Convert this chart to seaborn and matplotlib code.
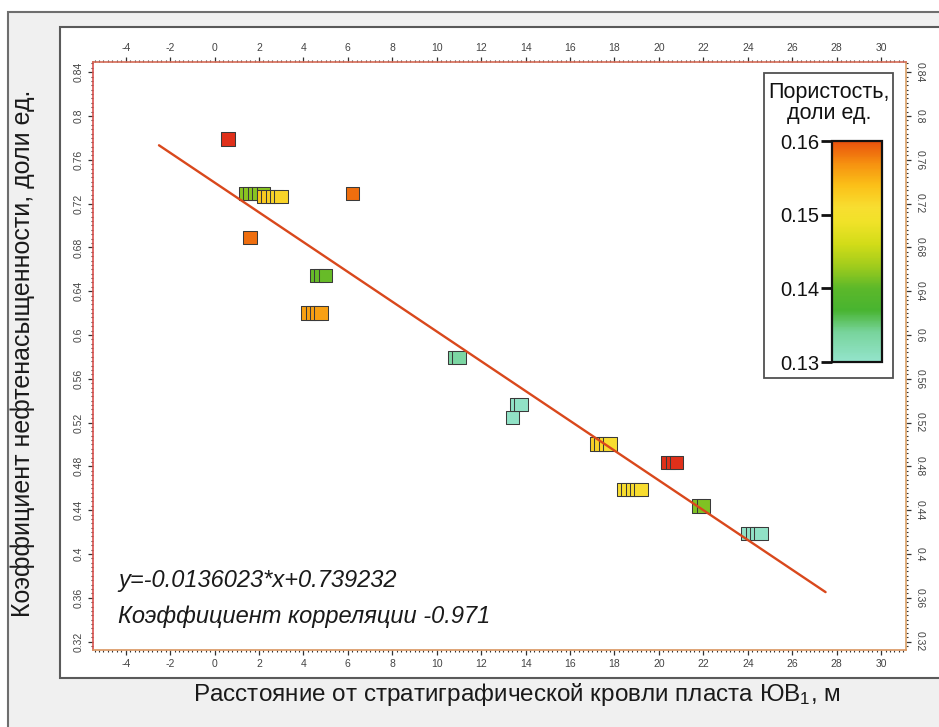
import numpy as np
import pandas as pd
import matplotlib
matplotlib.use("Agg")
import matplotlib.pyplot as plt
import matplotlib.colors as mcolors
from matplotlib.patches import Rectangle
from matplotlib.ticker import MultipleLocator, FuncFormatter
import seaborn as sns

# ---------------- data ----------------
distance = [0.6,
            1.4, 1.6, 1.8, 2.0, 2.2,
            2.2, 2.4, 2.6, 2.8, 3.0,
            6.2,
            1.6,
            4.6, 4.8, 5.0,
            4.2, 4.4, 4.6, 4.8,
            10.8, 11.0,
            13.4,
            13.6, 13.8,
            17.2, 17.4, 17.6, 17.8,
            18.4, 18.6, 18.8, 19.0, 19.2,
            20.4, 20.6, 20.8,
            21.8, 22.0,
            24.0, 24.2, 24.4, 24.6]
kn = [0.779,
      0.729, 0.729, 0.729, 0.729, 0.729,
      0.7263, 0.7263, 0.7263, 0.7263, 0.7263,
      0.729,
      0.689,
      0.6545, 0.6545, 0.6545,
      0.620, 0.620, 0.620, 0.620,
      0.5796, 0.5796,
      0.5248,
      0.5363, 0.5363,
      0.5005, 0.5005, 0.5005, 0.5005,
      0.4591, 0.4591, 0.4591, 0.4591, 0.4591,
      0.4834, 0.4834, 0.4834,
      0.4436, 0.4436,
      0.4189, 0.4189, 0.4189, 0.4189]
porosity = [0.165,
            0.142, 0.142, 0.142, 0.142, 0.142,
            0.1535, 0.153, 0.1525, 0.152, 0.152,
            0.1585,
            0.1585,
            0.1405, 0.1405, 0.1405,
            0.156, 0.156, 0.156, 0.156,
            0.1335, 0.1335,
            0.1305,
            0.1305, 0.1305,
            0.1525, 0.152, 0.1515, 0.151,
            0.151, 0.151, 0.151, 0.151, 0.151,
            0.165, 0.165, 0.165,
            0.1415, 0.1415,
            0.1305, 0.1305, 0.1305, 0.1305]

slope = -0.0136023
intercept = 0.739232
corr = -0.971
line_x = [-2.5, 27.5]

cbar_ticks = [0.13, 0.14, 0.15, 0.16]
x_ticks = list(range(-4, 31, 2))
y_ticks = [0.32, 0.36, 0.40, 0.44, 0.48, 0.52, 0.56, 0.60, 0.64, 0.68, 0.72, 0.76, 0.80, 0.84]

xlabel = "Расстояние от стратиграфической кровли пласта ЮВ$_\\mathregular{1}$, м"
ylabel = "Коэффициент нефтенасыщенности, доли ед."
cbar_title = "Пористость,\nдоли ед."

# ---------------- style ----------------
sns.set_style("white")
plt.rcParams['font.family'] = ['Liberation Sans', 'DejaVu Sans']
plt.rcParams['mathtext.fontset'] = 'custom'
plt.rcParams['mathtext.rm'] = 'Liberation Sans'
plt.rcParams['mathtext.it'] = 'Liberation Sans:italic'

W, H = 939, 727
fig = plt.figure(figsize=(W / 100, H / 100), dpi=100)
fig.patch.set_facecolor('white')

def fx(px):
    return px / W

def fy(py):
    return 1 - py / H

# background panels
fig.patches.append(Rectangle((fx(8), -0.05), 1.2, fy(12) + 0.05, transform=fig.transFigure,
                             facecolor='#f0f0f0', edgecolor='#6e6e6e', lw=1.5, zorder=-20))
fig.patches.append(Rectangle((fx(60), fy(678)), 1.2, fy(27) - fy(678), transform=fig.transFigure,
                             facecolor='white', edgecolor='#5a5a5a', lw=1.5, zorder=-19))

ax = fig.add_axes([fx(93), fy(650), fx(906) - fx(93), fy(62) - fy(650)])
ax.set_facecolor('none')

# colormap
nodes = [(0.130, '#94e4cc'), (0.134, '#78d49c'), (0.137, '#48b430'), (0.140, '#5cb82a'),
         (0.143, '#a0cc1c'), (0.146, '#d2dc18'), (0.149, '#f0e228'), (0.151, '#f8de30'),
         (0.154, '#fbc018'), (0.157, '#f69010'), (0.160, '#e8500c')]
vmin, vmax = 0.13, 0.16
cmap = mcolors.LinearSegmentedColormap.from_list(
    'por', [((v - vmin) / (vmax - vmin), c) for v, c in nodes])
cmap.set_over('#e0301a')
norm = mcolors.Normalize(vmin=vmin, vmax=vmax)

df = pd.DataFrame({'distance': distance, 'kn': kn, 'porosity': porosity})
sns.scatterplot(data=df, x='distance', y='kn', hue='porosity', palette=cmap, hue_norm=norm,
                marker='s', s=94, edgecolor='#3a3a3a', linewidth=0.75, legend=False, ax=ax, zorder=3)

line_df = pd.DataFrame({'x': line_x, 'y': [slope * v + intercept for v in line_x]})
sns.lineplot(data=line_df, x='x', y='y', color='#d9481c', lw=1.7, ax=ax, zorder=4)

ax.set_xlim(-5.47, 31.12)
ax.set_ylim(0.3123, 0.8493)
ax.set_xlabel('')
ax.set_ylabel('')

ax.xaxis.set_major_locator(plt.FixedLocator(x_ticks))
ax.yaxis.set_major_locator(plt.FixedLocator(y_ticks))
ax.xaxis.set_minor_locator(MultipleLocator(0.2))
ax.yaxis.set_minor_locator(MultipleLocator(0.004))
ax.xaxis.set_major_formatter(FuncFormatter(lambda v, p: f'{v:g}'))
ax.yaxis.set_major_formatter(FuncFormatter(lambda v, p: f'{v:g}'))

ax.tick_params(which='both', direction='out', top=True, right=True, bottom=True, left=True,
               labeltop=True, labelright=True, labelbottom=True, labelleft=True,
               colors='#333333', labelcolor='#444444', labelsize=7.5)
ax.tick_params(which='major', length=3.5, width=0.9, pad=3)
ax.tick_params(which='minor', length=1.6, width=0.8)
for t in ax.yaxis.get_major_ticks():
    t.label1.set_rotation(90)
    t.label1.set_va('center')
    t.label2.set_rotation(-90)
    t.label2.set_va('center')

for side, col in [('left', '#d9534f'), ('top', '#d36a55'), ('right', '#d9a066'), ('bottom', '#d9955f')]:
    ax.spines[side].set_visible(True)
    ax.spines[side].set_color(col)
    ax.spines[side].set_linewidth(1.2)

# equation texts
fig.text(fx(118), fy(580), f"y={slope:g}*x+{intercept:g}", fontsize=17, style='italic',
         color='#1a1a1a', ha='left', va='center')
fig.text(fx(118), fy(617), f"Коэффициент корреляции {corr:g}", fontsize=17, style='italic',
         color='#1a1a1a', ha='left', va='center')

# axis labels
fig.text(fx(517), fy(695), xlabel, fontsize=17.5, color='#1a1a1a', ha='center', va='center')
fig.text(fx(23), fy(353), ylabel, fontsize=18, color='#1a1a1a', ha='center', va='center',
         rotation=90)

# colorbar legend box
fig.patches.append(Rectangle((fx(764), fy(378)), fx(893) - fx(764), fy(73) - fy(378),
                             transform=fig.transFigure, facecolor='white',
                             edgecolor='#505050', lw=1.3, zorder=5))
cax = fig.add_axes([fx(832), fy(362), fx(882) - fx(832), fy(141) - fy(362)])
cax.set_zorder(6)
sm = matplotlib.cm.ScalarMappable(norm=norm, cmap=cmap)
cb = fig.colorbar(sm, cax=cax, ticks=cbar_ticks)
cb.outline.set_linewidth(1.6)
cb.outline.set_edgecolor('#111111')
cax.yaxis.set_ticks_position('left')
cax.yaxis.set_label_position('left')
cax.yaxis.set_major_formatter(FuncFormatter(lambda v, p: f'{v:.2f}'))
cax.tick_params(axis='y', length=8, width=2, color='#111111', labelsize=14.5,
                labelcolor='#111111', pad=1)
cax.minorticks_off()
fig.text(fx(829), fy(103), cbar_title, fontsize=15.5, color='#111111', ha='center',
         va='center', linespacing=1.05, zorder=7)

fig.savefig('out.png', dpi=100)
